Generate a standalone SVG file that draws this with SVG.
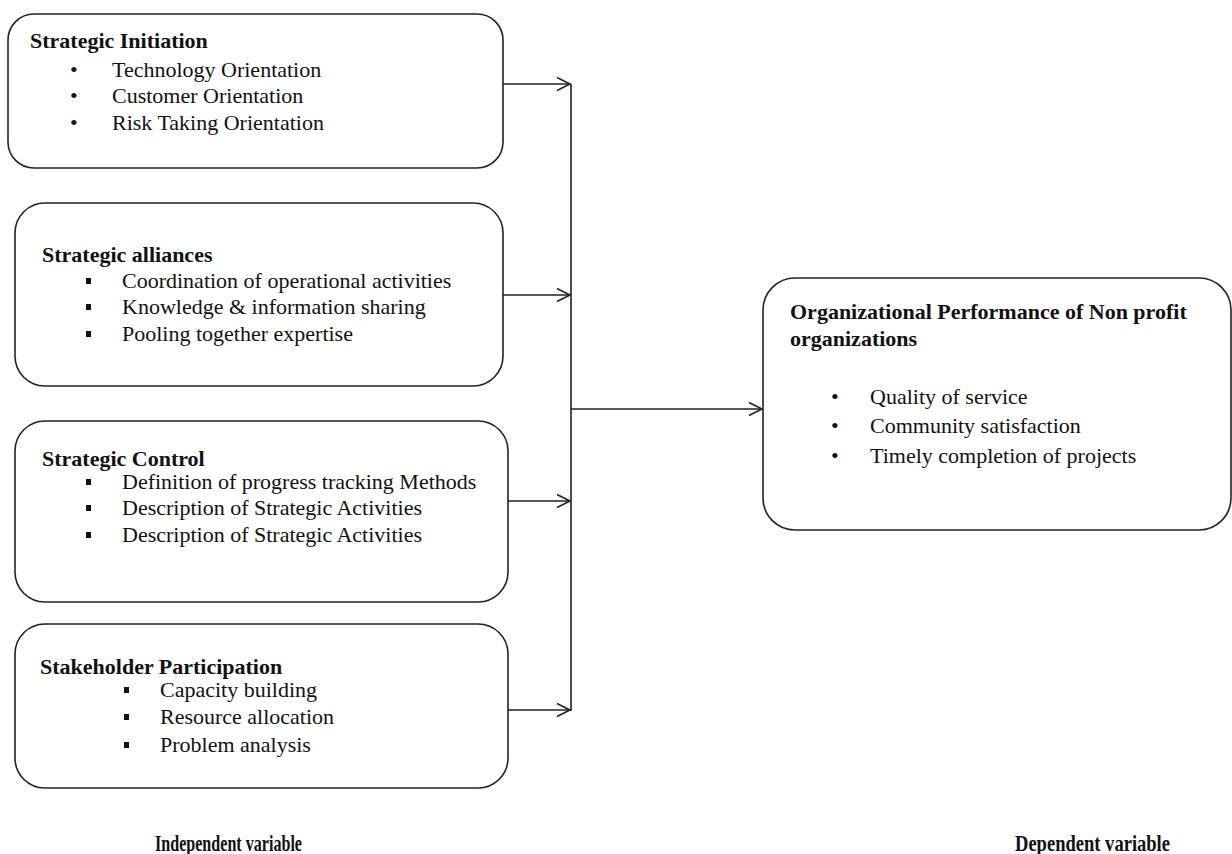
<svg xmlns="http://www.w3.org/2000/svg" width="1232" height="854" viewBox="0 0 1232 854">
<defs>
<style>
.box{fill:#fff;stroke:#222;stroke-width:1.6}
.t{font-family:"Liberation Serif","Times New Roman",serif;font-size:22px;fill:#111}
.h{font-family:"Liberation Serif","Times New Roman",serif;font-size:22px;font-weight:bold;fill:#111}
.lbl{font-family:"Liberation Serif","Times New Roman",serif;font-size:24px;font-weight:bold;fill:#111}
.c{fill:none;stroke:#222;stroke-width:1.6}
.sq{fill:#111}
</style>
<marker id="arr" markerWidth="16" markerHeight="16" refX="14" refY="8" orient="auto" markerUnits="userSpaceOnUse">
<path d="M1,1.5 L14,8 L1,14.5" fill="none" stroke="#222" stroke-width="1.6"/>
</marker>
</defs>
<rect width="1232" height="854" fill="#fff"/>
<g id="connectors">
<line class="c" x1="503" y1="84" x2="570" y2="84" marker-end="url(#arr)"/>
<line class="c" x1="503" y1="295" x2="570" y2="295" marker-end="url(#arr)"/>
<line class="c" x1="508" y1="501" x2="570" y2="501" marker-end="url(#arr)"/>
<line class="c" x1="508" y1="710" x2="570" y2="710" marker-end="url(#arr)"/>
<line class="c" x1="571" y1="84" x2="571" y2="711"/>
<line class="c" x1="571" y1="409" x2="762" y2="409" marker-end="url(#arr)"/>
</g>
<g id="strategic-initiation">
<rect class="box" x="8" y="14" width="495" height="154" rx="26"/>
<text class="h" x="30" y="48">Strategic Initiation</text>
<text class="t" x="70" y="77">•</text>
<text class="t" x="112" y="77">Technology Orientation</text>
<text class="t" x="70" y="103">•</text>
<text class="t" x="112" y="103">Customer Orientation</text>
<text class="t" x="70" y="130">•</text>
<text class="t" x="112" y="130">Risk Taking Orientation</text>
</g>
<g id="strategic-alliances">
<rect class="box" x="15" y="203" width="488" height="183" rx="30"/>
<text class="h" x="42" y="262">Strategic alliances</text>
<rect class="sq" x="86" y="278" width="5" height="6"/>
<text class="t" x="122" y="288">Coordination of operational activities</text>
<rect class="sq" x="86" y="304" width="5" height="6"/>
<text class="t" x="122" y="314">Knowledge &amp; information sharing</text>
<rect class="sq" x="86" y="331" width="5" height="6"/>
<text class="t" x="122" y="341">Pooling together expertise</text>
</g>
<g id="strategic-control">
<rect class="box" x="15" y="421" width="493" height="181" rx="30"/>
<text class="h" x="42" y="466">Strategic Control</text>
<rect class="sq" x="86" y="479" width="5" height="6"/>
<text class="t" x="122" y="489">Definition of progress tracking Methods</text>
<rect class="sq" x="86" y="505" width="5" height="6"/>
<text class="t" x="122" y="515">Description of Strategic Activities</text>
<rect class="sq" x="86" y="532" width="5" height="6"/>
<text class="t" x="122" y="542">Description of Strategic Activities</text>
</g>
<g id="stakeholder-participation">
<rect class="box" x="15" y="624" width="493" height="164" rx="30"/>
<text class="h" x="40" y="674">Stakeholder Participation</text>
<rect class="sq" x="124" y="687" width="5" height="6"/>
<text class="t" x="160" y="697">Capacity building</text>
<rect class="sq" x="124" y="714" width="5" height="6"/>
<text class="t" x="160" y="724">Resource allocation</text>
<rect class="sq" x="124" y="742" width="5" height="6"/>
<text class="t" x="160" y="752">Problem analysis</text>
</g>
<g id="organizational-performance">
<rect class="box" x="763" y="278" width="468" height="252" rx="32"/>
<text class="h" x="790" y="319">Organizational Performance of Non profit</text>
<text class="h" x="790" y="346">organizations</text>
<text class="t" x="831" y="404">•</text>
<text class="t" x="870" y="404">Quality of service</text>
<text class="t" x="831" y="433">•</text>
<text class="t" x="870" y="433">Community satisfaction</text>
<text class="t" x="831" y="463">•</text>
<text class="t" x="870" y="463">Timely completion of projects</text>
</g>
<g id="labels">
<text class="lbl" x="155" y="851" textLength="147" lengthAdjust="spacingAndGlyphs">Independent variable</text>
<text class="lbl" x="1015" y="851" textLength="155" lengthAdjust="spacingAndGlyphs">Dependent variable</text>
</g>
</svg>
